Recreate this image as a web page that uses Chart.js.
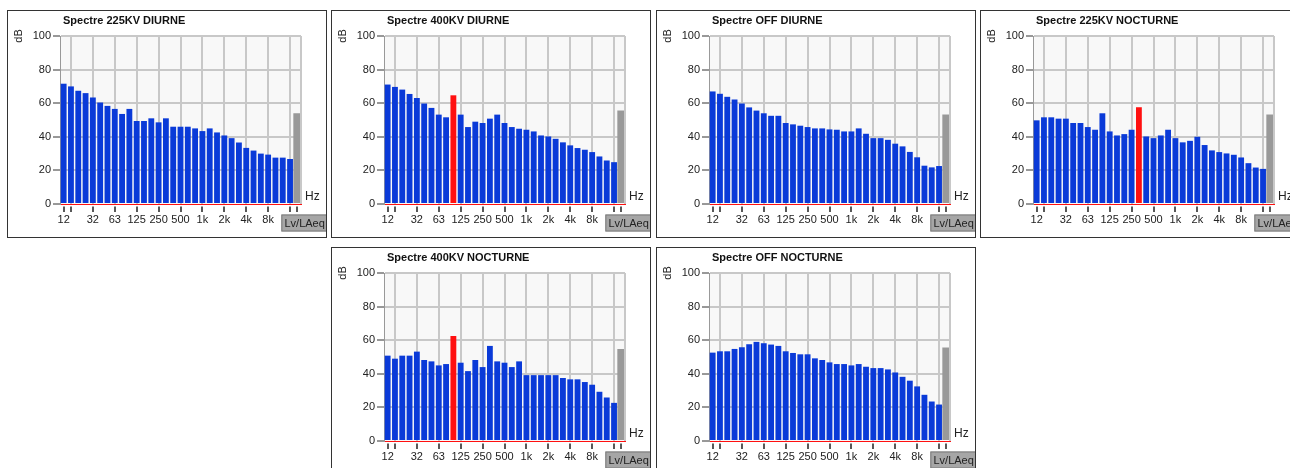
<!DOCTYPE html>
<html lang="fr">
<head>
<meta charset="UTF-8">
<title>Spectres</title>
<script src="https://cdn.jsdelivr.net/npm/chart.js"></script>
<style>
  html, body { margin: 0; padding: 0; background: #fff; overflow: hidden; }
  body { width: 1290px; height: 468px; position: relative; }
  .panel { position: absolute; width: 320px; height: 228px; border: 1px solid #333; box-sizing: border-box; background: #fff; }
  .panel canvas { display: block; }
</style>
</head>
<body>
<div class="panel" style="left:7px;top:10px"><canvas id="c0" width="318" height="226"></canvas></div>
<div class="panel" style="left:331px;top:10px"><canvas id="c1" width="318" height="226"></canvas></div>
<div class="panel" style="left:656px;top:10px"><canvas id="c2" width="318" height="226"></canvas></div>
<div class="panel" style="left:980px;top:10px"><canvas id="c3" width="318" height="226"></canvas></div>
<div class="panel" style="left:331px;top:247px"><canvas id="c4" width="318" height="226"></canvas></div>
<div class="panel" style="left:656px;top:247px"><canvas id="c5" width="318" height="226"></canvas></div>

<script>
// 1/3 octave bands + global level
const bands = ['12.5', '16', '20', '25', '31.5', '40', '50', '63', '80', '100', '125', '160',
  '200', '250', '315', '400', '500', '630', '800', '1k', '1.25k', '1.6k', '2k', '2.5k',
  '3.15k', '4k', '5k', '6.3k', '8k', '10k', '12.5k', '16k', 'Lv/LAeq'];
const tickLabels = ['12', '', '', '', '32', '', '', '63', '', '', '125', '', '', '250', '', '',
  '500', '', '', '1k', '', '', '2k', '', '', '4k', '', '', '8k', '', '', '', ''];
const tickMarks = [0, 1, 4, 7, 10, 13, 16, 19, 22, 25, 28, 31, 32];
const gridMarks = [1, 4, 7, 10, 13, 16, 19, 22, 25, 28, 31];
const yTicks = [0, 20, 40, 60, 80, 100];

const titles = ['Spectre 225KV DIURNE', 'Spectre 400KV DIURNE', 'Spectre OFF DIURNE',
  'Spectre 225KV NOCTURNE', 'Spectre 400KV NOCTURNE', 'Spectre OFF NOCTURNE'];

const s225Diurne = [71.6, 70, 67.4, 66, 63.4, 60.4, 58.4, 56.6, 53.6, 56.6, 49.4, 49.4, 51, 48.6, 51, 46,
  46, 46, 45, 43.4, 45, 42.6, 40.8, 39.2, 36.6, 33.4, 31.8, 30, 29.4, 27.6, 27.6, 26.8];
const s400Diurne = [71.1, 69.7, 68.1, 65.5, 63.1, 59.8, 57.2, 53.2, 51.6, 64.7, 53.2, 45.8, 49, 48.2, 50.8, 53.2,
  48.2, 45.8, 44.8, 44.2, 43.2, 40.8, 40.2, 38.8, 36.7, 34.9, 33.3, 32.3, 30.9, 28.3, 25.9, 24.9];
const sOffDiurne = [67, 65.6, 63.8, 62.2, 59.8, 57.5, 55.6, 54, 52.5, 52.5, 48.2, 47.4, 46.6, 45.8, 45, 45,
  44.4, 44.2, 43.2, 43.2, 45, 41.8, 39.2, 39.2, 38.2, 35.9, 34.3, 31, 27.8, 22.8, 21.8, 22.6];
const s225Nocturne = [49.8, 51.6, 51.6, 50.8, 50.8, 48.2, 48.2, 45.8, 44.2, 54, 43.2, 40.8, 41.6, 44.2, 57.6, 40.2,
  39.2, 40.8, 44.2, 39.2, 36.7, 37.6, 40, 35.1, 31.9, 30.9, 30.1, 29.3, 27.7, 24.3, 21.7, 20.9];
const s400Nocturne = [50.8, 49, 50.8, 50.8, 53.2, 48.2, 47.4, 45, 45.8, 62.5, 46.6, 41.6, 48.2, 44, 56.6, 47.4,
  46.6, 44, 47.4, 39.2, 39.2, 39.2, 39.2, 39.2, 37.5, 36.7, 36.7, 35.1, 33.5, 29.3, 25.9, 22.7];
const sOffNocturne = [52.6, 53.4, 53.4, 54.8, 55.8, 57.6, 59, 58.2, 57.4, 56.6, 53.4, 52.4, 51.6, 51.6, 49.2, 48.2,
  46.8, 45.8, 45.8, 45, 45.8, 44.2, 43.4, 43.4, 42.6, 40.8, 38.2, 35.9, 32.5, 27.5, 23.5, 21.7];

const series = [s225Diurne, s400Diurne, sOffDiurne, s225Nocturne, s400Nocturne, sOffNocturne];
const globalLevels = [54, 55.6, 53.2, 53.2, 54.8, 55.6];
const redBands = [-1, 9, -1, 14, 9, -1];   // emerging band shown in red, -1 = none

const BLUE = '#0a3ad8', RED = '#ff1010', GREY = '#999999', GRID = '#c8c8c8';
Chart.defaults.font.family = 'Arial, "Liberation Sans", sans-serif';
Chart.defaults.font.size = 11;

// background, frame, x tick marks and extra text of each panel
const decor = {
  id: 'decor',
  beforeDraw(chart) {
    const { ctx, chartArea: a } = chart;
    ctx.save();
    ctx.fillStyle = '#f8f8f8';
    ctx.fillRect(a.left, a.top, a.right - a.left, a.bottom - a.top);
    ctx.restore();
  },
  afterDraw(chart, args, opts) {
    const { ctx, chartArea: a } = chart;
    const x = chart.scales.x;
    ctx.save();
    ctx.strokeStyle = GRID;
    ctx.lineWidth = 2;
    ctx.beginPath();
    ctx.moveTo(a.right, a.top);
    ctx.lineTo(a.right, a.bottom);
    ctx.stroke();

    // short tick marks under the axis, with a small gap
    ctx.strokeStyle = '#222';
    ctx.lineWidth = 1.5;
    ctx.beginPath();
    tickMarks.forEach(i => {
      const px = Math.round(x.getPixelForValue(i));
      ctx.moveTo(px, a.bottom + 2.5);
      ctx.lineTo(px, a.bottom + 8);
    });
    ctx.stroke();

    ctx.fillStyle = '#111';
    ctx.font = 'bold 11px Arial, "Liberation Sans", sans-serif';
    ctx.textAlign = 'left';
    ctx.textBaseline = 'middle';
    ctx.fillText(opts.title, a.left + 3, 10);

    ctx.font = '11px Arial, "Liberation Sans", sans-serif';
    ctx.fillStyle = '#222';
    ctx.save();
    ctx.translate(11, a.top);
    ctx.rotate(-Math.PI / 2);
    ctx.textAlign = 'center';
    ctx.fillText('dB', 0, 0);
    ctx.restore();

    ctx.font = '12px Arial, "Liberation Sans", sans-serif';
    ctx.fillText('Hz', a.right + 4, a.bottom - 7);

    const gx = x.getPixelForValue(bands.length - 1);
    const bx = gx - 16, by = a.bottom + 10.5;
    ctx.fillStyle = '#a6a6a6';
    ctx.fillRect(bx, by, chart.width - bx, 17);
    ctx.strokeStyle = '#7a7a7a';
    ctx.lineWidth = 1;
    ctx.strokeRect(bx + 0.5, by + 0.5, chart.width - bx, 16);
    ctx.fillStyle = '#222';
    ctx.font = '11px Arial, "Liberation Sans", sans-serif';
    ctx.textAlign = 'center';
    ctx.fillText('Lv/LAeq', bx + (chart.width - bx) / 2 + 1, by + 9);
    ctx.restore();
  }
};

series.forEach((vals, p) => {
  const bandData = vals.concat([null]);
  const levelData = vals.map(() => null).concat([globalLevels[p]]);
  const colors = vals.map((v, i) => i === redBands[p] ? RED : BLUE);

  new Chart(document.getElementById('c' + p), {
    type: 'bar',
    data: {
      labels: bands,
      datasets: [
        { data: bandData, backgroundColor: colors, barPercentage: 0.8, categoryPercentage: 1, grouped: false },
        { data: levelData, backgroundColor: GREY, barPercentage: 1.1, categoryPercentage: 1, grouped: false }
      ]
    },
    options: {
      responsive: false,
      animation: false,
      layout: { padding: { top: 25, right: 25, left: 0, bottom: 0 } },
      plugins: {
        legend: { display: false },
        tooltip: { enabled: false },
        decor: { title: titles[p] }
      },
      scales: {
        x: {
          offset: true,
          border: { color: RED, width: 1 },
          grid: {
            offset: false,
            lineWidth: 2,
            color: c => gridMarks.includes(c.index) ? GRID : 'rgba(0,0,0,0)',
            tickColor: 'rgba(0,0,0,0)',
            tickLength: 7
          },
          ticks: {
            autoSkip: false,
            maxRotation: 0,
            padding: 2,
            color: '#222',
            callback: (v, i) => tickLabels[i]
          },
          afterFit: s => { s.height = 33; }
        },
        y: {
          min: 0,
          max: 100,
          border: { color: '#999', width: 1 },
          grid: {
            lineWidth: 2,
            color: c => c.tick && c.tick.value === 0 ? 'rgba(0,0,0,0)' : GRID,
            tickColor: '#333',
            tickWidth: 1,
            tickLength: 7
          },
          afterBuildTicks: s => { s.ticks = yTicks.map(v => ({ value: v })); },
          ticks: { padding: 2, color: '#222' },
          afterFit: s => { s.width = 52; }
        }
      }
    },
    plugins: [decor]
  });
});
</script>
</body>
</html>
